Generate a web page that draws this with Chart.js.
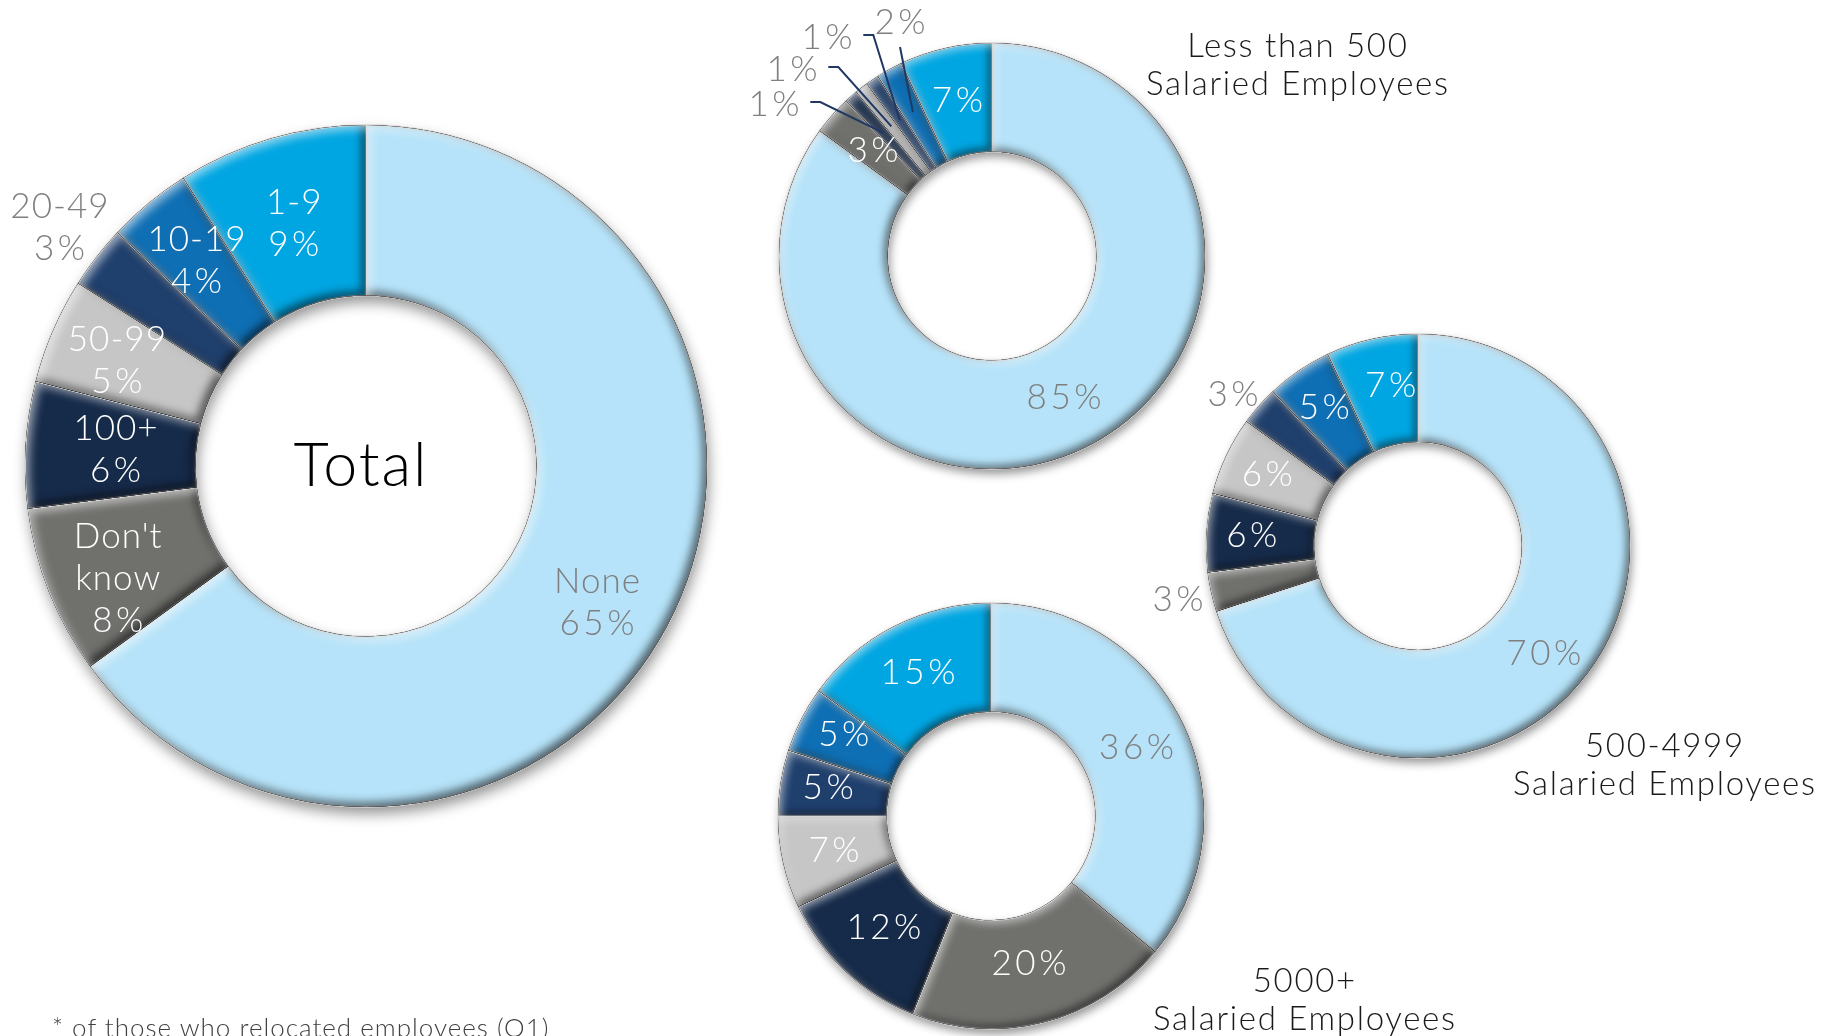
<!DOCTYPE html>
<html>
<head>
<meta charset="utf-8">
<title>Relocated employees by company size</title>
<script src="https://cdn.jsdelivr.net/npm/chart.js@4.4.1/dist/chart.umd.min.js"></script>
<style>
  html, body { margin: 0; padding: 0; background: #ffffff; }
  #stage { position: relative; width: 1823px; height: 1036px; overflow: hidden; }
  #stage canvas { position: absolute; left: 0; top: 0; }
  #footnote {
    position: absolute; left: 52px; top: 1014px;
    font: 300 26px/26px Lato, "Open Sans", sans-serif;
    letter-spacing: 1px;
    color: #404040; white-space: nowrap;
  }
</style>
</head>
<body>
<div id="stage">
  <canvas id="chartTotal" width="1823" height="1036"></canvas>
  <canvas id="chartUnder500" width="1823" height="1036"></canvas>
  <canvas id="chart500to4999" width="1823" height="1036"></canvas>
  <canvas id="chart5000plus" width="1823" height="1036"></canvas>
  <div id="footnote">* of those who relocated employees (Q1)</div>
</div>
<script>
// Number of employees relocated, share of companies (%)
const categories = ['None', "Don't know", '100+', '50-99', '20-49', '10-19', '1-9'];
const totalValues = [65, 8, 6, 5, 3, 4, 9];
const under500Values = [85, 3, 1, 1, 1, 2, 7];
const from500to4999Values = [70, 3, 6, 6, 3, 5, 7];
const over5000Values = [36, 20, 12, 7, 5, 5, 15];

const groupTitles = {
  under500: ['Less than 500', 'Salaried Employees'],
  from500to4999: ['500-4999', 'Salaried Employees'],
  over5000: ['5000+', 'Salaried Employees']
};

const segmentColors = ['#b6e3f9', '#70706d', '#162b4a', '#c6c6c6', '#1f3f6d', '#0f6fb4', '#00a6e2'];
const labelColors = ['#7f7f7f', '#ffffff', '#ffffff', '#ffffff', '#ffffff', '#ffffff', '#ffffff'];
const outsideLabelColor = '#7f7f7f';
const leaderColor = '#1f3864';

const W = 1823, H = 1036;
const LABEL_FONT = '300 35px Lato, "Open Sans", sans-serif';
const TITLE_FONT = '300 33px Lato, "Open Sans", sans-serif';
const WORD_SPACING = 1;     // letter spacing for category words
const NUMBER_SPACING = 3.5; // letter spacing for percentages

function addArc(ctx, p) {
  ctx.moveTo(p.x + Math.cos(p.startAngle) * p.outerRadius, p.y + Math.sin(p.startAngle) * p.outerRadius);
  ctx.arc(p.x, p.y, p.outerRadius, p.startAngle, p.endAngle);
  ctx.arc(p.x, p.y, p.innerRadius, p.endAngle, p.startAngle, true);
  ctx.closePath();
}

function arcProps(arc) {
  return arc.getProps(['x', 'y', 'startAngle', 'endAngle', 'innerRadius', 'outerRadius'], true);
}

// Soft drop shadow under the ring plus a bevelled edge on every slice
const bevelPlugin = {
  id: 'bevel',
  beforeDatasetsDraw(chart, args, opts) {
    const arcs = chart.getDatasetMeta(0).data;
    if (!arcs.length) return;
    const p = arcProps(arcs[0]);
    const ctx = chart.ctx;
    ctx.save();
    ctx.shadowColor = 'rgba(0,0,0,0.42)';
    ctx.shadowBlur = opts.shadowBlur;
    ctx.shadowOffsetX = 2;
    ctx.shadowOffsetY = opts.shadowY;
    ctx.beginPath();
    ctx.arc(p.x, p.y, p.outerRadius, 0, Math.PI * 2);
    ctx.moveTo(p.x + p.innerRadius, p.y);
    ctx.arc(p.x, p.y, p.innerRadius, 0, Math.PI * 2, true);
    ctx.fillStyle = '#a0a0a0';
    ctx.fill('evenodd');
    ctx.restore();
  },
  afterDatasetsDraw(chart, args, opts) {
    const ctx = chart.ctx;
    chart.getDatasetMeta(0).data.forEach(arc => {
      const p = arcProps(arc);
      ctx.save();
      ctx.beginPath();
      addArc(ctx, p);
      ctx.clip();
      const edge = (color, dx, dy) => {
        ctx.shadowColor = color;
        ctx.shadowBlur = opts.blur;
        ctx.shadowOffsetX = dx;
        ctx.shadowOffsetY = dy;
        ctx.beginPath();
        ctx.rect(p.x - 3000, p.y - 3000, 6000, 6000);
        addArc(ctx, p);
        ctx.fillStyle = '#000';
        ctx.fill('evenodd');
      };
      edge('rgba(0,0,0,0.62)', -opts.depth, -opts.depth);
      edge('rgba(255,255,255,0.6)', opts.depth, opts.depth);
      ctx.restore();
    });
  }
};

// Draws centred lines; the last line of a slice label is its percentage
function drawLines(ctx, lines, x, y, lineHeight, spacings) {
  const top = y - (lines.length - 1) * lineHeight / 2;
  lines.forEach((t, i) => {
    const s = spacings ? spacings[i] : 0;
    ctx.letterSpacing = s + 'px';
    ctx.fillText(t, x + s / 2, top + i * lineHeight);
  });
}

// Value labels, leader lines, centre text and group titles
const labelPlugin = {
  id: 'sliceLabels',
  afterDraw(chart, args, opts) {
    const ctx = chart.ctx;
    const ds = chart.data.datasets[0];
    const arcs = chart.getDatasetMeta(0).data;
    ctx.save();
    ctx.textAlign = 'center';
    ctx.textBaseline = 'middle';
    ctx.font = LABEL_FONT;
    arcs.forEach((arc, i) => {
      const p = arcProps(arc);
      const mid = (p.startAngle + p.endAngle) / 2;
      const value = ds.data[i] + '%';
      const words = opts.withCategory ? chart.data.labels[i].split(' ') : [];
      const lines = words.concat([value]);
      const spacings = words.map(() => WORD_SPACING).concat([NUMBER_SPACING]);
      const place = (opts.placements || {})[i] || {};
      let lx, ly, color = labelColors[i];
      if (place.dx !== undefined) {
        lx = p.x + place.dx; ly = p.y + place.dy; color = outsideLabelColor;
        // leader line from the slice to its label
        const rEnd = p.innerRadius + 0.55 * (p.outerRadius - p.innerRadius);
        const ex = p.x + Math.cos(mid) * rEnd, ey = p.y + Math.sin(mid) * rEnd;
        ctx.save();
        ctx.strokeStyle = leaderColor;
        ctx.lineWidth = 2;
        ctx.beginPath();
        if (place.leader === 'elbow') {
          ctx.letterSpacing = NUMBER_SPACING + 'px';
          const w = ctx.measureText(value).width;
          const sx = lx + w / 2 + 9, sy = ly - 3;
          ctx.moveTo(sx, sy);
          ctx.lineTo(sx + 10, sy);
          ctx.lineTo(ex, ey);
        } else {
          ctx.moveTo(lx, ly + 24);
          ctx.lineTo(ex, ey);
        }
        ctx.stroke();
        ctx.restore();
      } else if (place.r !== undefined) {
        lx = p.x + Math.cos(mid) * place.r; ly = p.y + Math.sin(mid) * place.r; color = outsideLabelColor;
      } else {
        const r = p.innerRadius + opts.labelFrac * (p.outerRadius - p.innerRadius);
        lx = p.x + Math.cos(mid) * r; ly = p.y + Math.sin(mid) * r;
      }
      if (place.shift) { lx += place.shift[0]; ly += place.shift[1]; }
      ctx.fillStyle = color;
      drawLines(ctx, lines, lx, ly, 42, spacings);
    });
    if (opts.centerText && arcs.length) {
      const p = arcProps(arcs[0]);
      ctx.font = '300 61px Lato, "Open Sans", sans-serif';
      ctx.fillStyle = '#000000';
      drawLines(ctx, [opts.centerText], p.x - 6, p.y, 0, [2]);
    }
    if (opts.title) {
      ctx.font = TITLE_FONT;
      ctx.fillStyle = '#1a1a1a';
      drawLines(ctx, opts.title, opts.titleX, opts.titleY, 38, [1.7, 1.7]);
    }
    ctx.restore();
  }
};

function makeDonut(canvasId, values, layout) {
  const d = Math.min(layout.cx, W - layout.cx, layout.cy, H - layout.cy);
  return new Chart(document.getElementById(canvasId), {
    type: 'doughnut',
    data: {
      labels: categories,
      datasets: [{
        data: values,
        backgroundColor: segmentColors,
        borderColor: '#d4d4d4',
        borderWidth: 1.5,
        radius: layout.r,
        cutout: layout.cutout
      }]
    },
    options: {
      responsive: false,
      devicePixelRatio: 1,
      animation: false,
      events: [],
      layout: {
        padding: {
          left: layout.cx - d, right: W - layout.cx - d,
          top: layout.cy - d, bottom: H - layout.cy - d
        }
      },
      plugins: {
        legend: { display: false },
        tooltip: { enabled: false },
        bevel: layout.bevel,
        sliceLabels: layout.labels
      }
    },
    plugins: [bevelPlugin, labelPlugin]
  });
}

makeDonut('chartTotal', totalValues, {
  cx: 366, cy: 466, r: 341, cutout: '50%',
  bevel: { depth: 4, blur: 10, shadowBlur: 14, shadowY: 7 },
  labels: {
    withCategory: true, labelFrac: 0.56, centerText: 'Total',
    placements: {
      0: { shift: [-6, 16] },
      1: { shift: [-1, 15] },
      2: { shift: [15, 0] },
      3: { shift: [-5, 0] },
      4: { r: 388 },
      6: { shift: [2, 13] }
    }
  }
});

makeDonut('chartUnder500', under500Values, {
  cx: 992, cy: 256, r: 213, cutout: '49%',
  bevel: { depth: 3, blur: 8, shadowBlur: 10, shadowY: 5 },
  labels: {
    labelFrac: 0.5,
    placements: {
      2: { dx: -218, dy: -151, leader: 'elbow' },
      3: { dx: -200, dy: -186, leader: 'elbow' },
      4: { dx: -165, dy: -218, leader: 'elbow' },
      5: { dx: -92, dy: -233, leader: 'down' }
    },
    title: groupTitles.under500, titleX: 1297, titleY: 65
  }
});

makeDonut('chart500to4999', from500to4999Values, {
  cx: 1418, cy: 546, r: 212, cutout: '49%',
  bevel: { depth: 3, blur: 8, shadowBlur: 10, shadowY: 5 },
  labels: {
    labelFrac: 0.58,
    placements: {
      0: { shift: [-9, 10] },
      1: { r: 246 },
      4: { r: 240, shift: [-5, 7] },
      6: { shift: [9, 2] }
    },
    title: groupTitles.from500to4999, titleX: 1664, titleY: 765
  }
});

makeDonut('chart5000plus', over5000Values, {
  cx: 991, cy: 816, r: 213, cutout: '49%',
  bevel: { depth: 3, blur: 8, shadowBlur: 10, shadowY: 5 },
  labels: {
    labelFrac: 0.52,
    placements: {
      1: { shift: [-2, -8] },
      2: { shift: [3, -6] },
      4: { shift: [-4, -3] },
      5: { shift: [-4, -8] }
    },
    title: groupTitles.over5000, titleX: 1304, titleY: 1000
  }
});
</script>
</body>
</html>
